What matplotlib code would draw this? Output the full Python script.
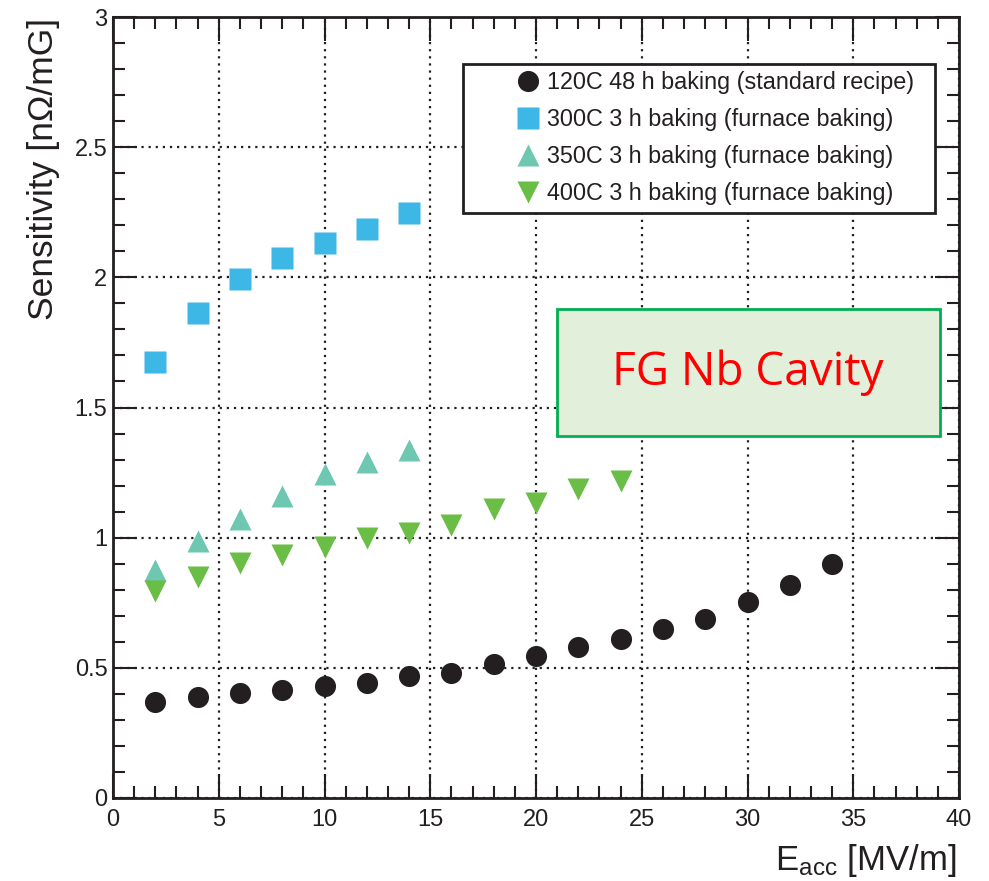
import matplotlib
matplotlib.use('Agg')
import matplotlib.pyplot as plt
from matplotlib.patches import Rectangle
from matplotlib.ticker import MultipleLocator

plt.rcParams['font.family'] = ['Liberation Sans', 'DejaVu Sans']
plt.rcParams['mathtext.fontset'] = 'custom'
plt.rcParams['mathtext.rm'] = 'Liberation Sans'
plt.rcParams['mathtext.default'] = 'regular'

# data
e_120 = [2, 4, 6, 8, 10, 12, 14, 16, 18, 20, 22, 24, 26, 28, 30, 32, 34]
s_120 = [0.369, 0.387, 0.403, 0.415, 0.430, 0.443, 0.469, 0.481, 0.515, 0.546,
         0.580, 0.611, 0.649, 0.688, 0.752, 0.818, 0.897]
e_300 = [2, 4, 6, 8, 10, 12, 14]
s_300 = [1.675, 1.862, 1.992, 2.076, 2.130, 2.187, 2.249]
e_350 = [2, 4, 6, 8, 10, 12, 14]
s_350 = [0.877, 0.988, 1.070, 1.160, 1.246, 1.290, 1.338]
e_400 = [2, 4, 6, 8, 10, 12, 14, 16, 18, 20, 22, 24]
s_400 = [0.797, 0.850, 0.904, 0.934, 0.965, 1.000, 1.019, 1.050, 1.109, 1.135,
         1.186, 1.219]

labels = ['120C 48 h baking (standard recipe)',
          '300C 3 h baking (furnace baking)',
          '350C 3 h baking (furnace baking)',
          '400C 3 h baking (furnace baking)']

txt = '#231f20'
fig = plt.figure(figsize=(9.89, 8.81), dpi=100)
ax = fig.add_axes([113/989, 1-798/881, 846/989, 781/881])

ax.plot(e_120, s_120, 'o', ms=15.2, color='#231f20', mec='none', label=labels[0])
ax.plot(e_300, s_300, 's', ms=15.6, color='#3db7e6', mec='none', label=labels[1])
ax.plot(e_350, s_350, '^', ms=16.5, color='#6dc7b1', mec='none', label=labels[2])
ax.plot(e_400, s_400, 'v', ms=16.5, color='#6abd45', mec='none', label=labels[3])

ax.set_xlim(0, 40)
ax.set_ylim(0, 3)
ax.xaxis.set_major_locator(MultipleLocator(5))
ax.xaxis.set_minor_locator(MultipleLocator(1))
ax.yaxis.set_major_locator(MultipleLocator(0.5))
ax.yaxis.set_minor_locator(MultipleLocator(0.1))
ax.set_yticks([0, 0.5, 1, 1.5, 2, 2.5, 3])
ax.set_yticklabels(['0', '0.5', '1', '1.5', '2', '2.5', '3'])
ax.tick_params(which='both', direction='in', top=True, right=True,
               labelsize=17, labelcolor=txt, color=txt, width=1.5)
ax.tick_params(which='major', length=17)
ax.tick_params(which='minor', length=8.5)
ax.tick_params(axis='x', pad=8)
ax.tick_params(axis='y', pad=4)
for sp in ax.spines.values():
    sp.set_linewidth(2)
    sp.set_color(txt)
ax.grid(True, which='major', color='#231f20', linestyle=(0, (1, 2.2)), linewidth=1.6)
ax.set_axisbelow(True)

leg = ax.legend(loc='upper left', bbox_to_anchor=(350/846, 0.7398, 472/846, 0.2),
                mode='expand', borderaxespad=0, fontsize=16.8, frameon=True,
                fancybox=False, handlelength=4.9, handletextpad=-1.6,
                labelspacing=0.6, borderpad=0.32, numpoints=1,
                labelcolor=txt)
leg.get_frame().set_edgecolor(txt)
leg.get_frame().set_linewidth(2)
leg.get_frame().set_alpha(1)

fig.text(0.044, 1-18/881, 'Sensitivity [nΩ/mG]', rotation=90, ha='center',
         va='top', fontsize=25.5, color=txt)
fig.text(957/989, 1-870/881, r'E$_{acc}$ [MV/m]', ha='right', va='baseline',
         fontsize=25, color=txt)

fig.patches.append(Rectangle((557/989, 1-436/881), 383/989, 127/881,
                             transform=fig.transFigure, facecolor='#e2efda',
                             edgecolor='#00b050', linewidth=2, zorder=5))
fig.text(748/989, 1-373/881, 'FG Nb Cavity', ha='center', va='center',
         fontsize=33, color='#ff0000', family='Open Sans', zorder=6)

fig.savefig('out.png', dpi=100)
